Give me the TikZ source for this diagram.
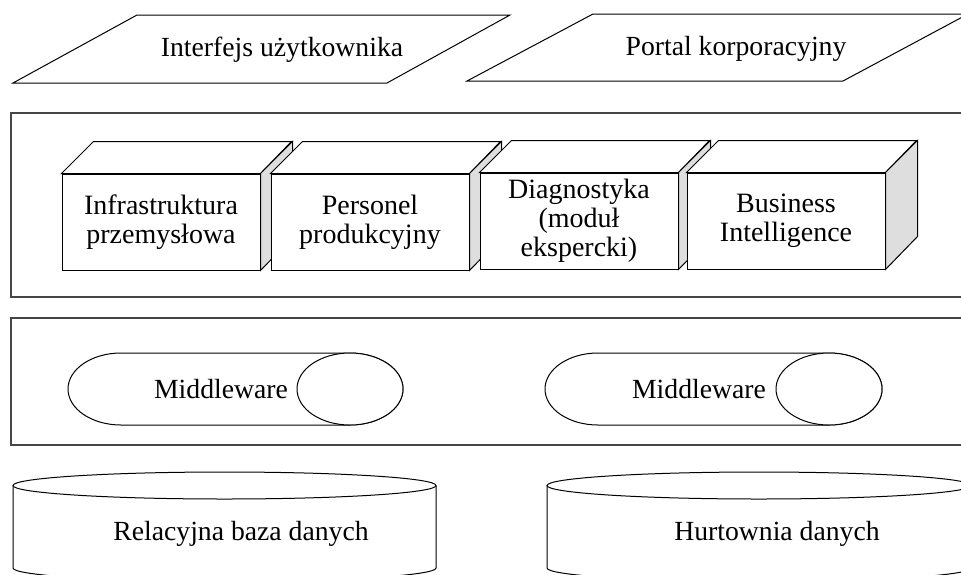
\documentclass[tikz,border=0pt]{standalone}
\usepackage{fontspec}
\setmainfont{Liberation Serif}
\definecolor{sidegray}{RGB}{222,222,222}
\definecolor{layergray}{RGB}{70,70,70}
\begin{document}
\begin{tikzpicture}[x=1pt,y=-1pt,
  shp/.style={draw=black,line width=1pt,fill=white,line join=miter},
  layer/.style={draw=layergray,line width=1.5pt},
  lbl/.style={font=\fontsize{27.7}{29}\selectfont,inner sep=0pt},
  face/.style={draw=black,line width=1pt,fill=white,minimum width=198pt,minimum height=96pt,
    inner sep=0pt,align=center,font=\fontsize{28}{29}\selectfont},
  sideface/.style={draw=black,line width=1pt,fill=sidegray,line join=miter},
]
\useasboundingbox (0,0) rectangle (961,574);
\clip (0,0) rectangle (961,574);

% top layer: parallelograms
\draw[shp] (13,83) -- (137,15) -- (510,15) -- (387,83) -- cycle;
\draw[shp] (467,81) -- (593,14) -- (968,14) -- (843,81) -- cycle;
\node[lbl,anchor=base] (p1) at (282,56) {Interfejs użytkownika};
\node[lbl,anchor=base] (p2) at (736,55) {Portal korporacyjny};

% layer frames
\draw[layer] (11,113) rectangle (990,297);
\draw[layer] (11,318) rectangle (990,445);

% cubes
\node[face] (c1) at (161,222) {Infrastruktura\\przemysłowa};
\draw[shp] (c1.north west) -- ++(32,-32) -- ++(198,0) -- (c1.north east) -- cycle;
\draw[sideface] (c1.north east) -- ++(32,-32) -- ++(0,96) -- (c1.south east) -- cycle;

\node[face] (c2) at (370,222) {Personel\\produkcyjny};
\draw[shp] (c2.north west) -- ++(32,-32) -- ++(198,0) -- (c2.north east) -- cycle;
\draw[sideface] (c2.north east) -- ++(32,-32) -- ++(0,96) -- (c2.south east) -- cycle;

\node[face] (c3) at (579,221) {Diagnostyka\\(moduł\\ekspercki)};
\draw[shp] (c3.north west) -- ++(32,-32) -- ++(198,0) -- (c3.north east) -- cycle;
\draw[sideface] (c3.north east) -- ++(32,-32) -- ++(0,96) -- (c3.south east) -- cycle;

\node[face] (c4) at (786,221) {Business\\Intelligence};
\draw[shp] (c4.north west) -- ++(32,-32) -- ++(198,0) -- (c4.north east) -- cycle;
\draw[sideface] (c4.north east) -- ++(32,-32) -- ++(0,96) -- (c4.south east) -- cycle;

% middleware pills
\draw[shp] (121,353) -- (350,353) arc[start angle=-90,end angle=90,x radius=53,y radius=36]
  -- (121,425) arc[start angle=90,end angle=270,x radius=53,y radius=36] -- cycle;
\draw[shp] (350,389) ellipse[x radius=53,y radius=36];
\node[lbl] (m1) at (221,389) {Middleware};

\draw[shp] (598,353) -- (829,353) arc[start angle=-90,end angle=90,x radius=53,y radius=36]
  -- (598,425) arc[start angle=90,end angle=270,x radius=53,y radius=36] -- cycle;
\draw[shp] (829,389) ellipse[x radius=53,y radius=36];
\node[lbl] (m2) at (699,389) {Middleware};

% database cylinders
\draw[shp] (13,485.5) -- (13,568) arc[start angle=180,end angle=0,x radius=211.5,y radius=13.5]
  -- (436,485.5);
\draw[shp] (224.5,485.5) ellipse[x radius=211.5,y radius=13.5];
\node[lbl,anchor=base] (d1) at (241,540) {Relacyjna baza danych};

\draw[shp] (547,485.5) -- (547,568) arc[start angle=180,end angle=0,x radius=212,y radius=13.5]
  -- (971,485.5);
\draw[shp] (759,485.5) ellipse[x radius=212,y radius=13.5];
\node[lbl,anchor=base] (d2) at (777,540) {Hurtownia danych};
\end{tikzpicture}
\end{document}
